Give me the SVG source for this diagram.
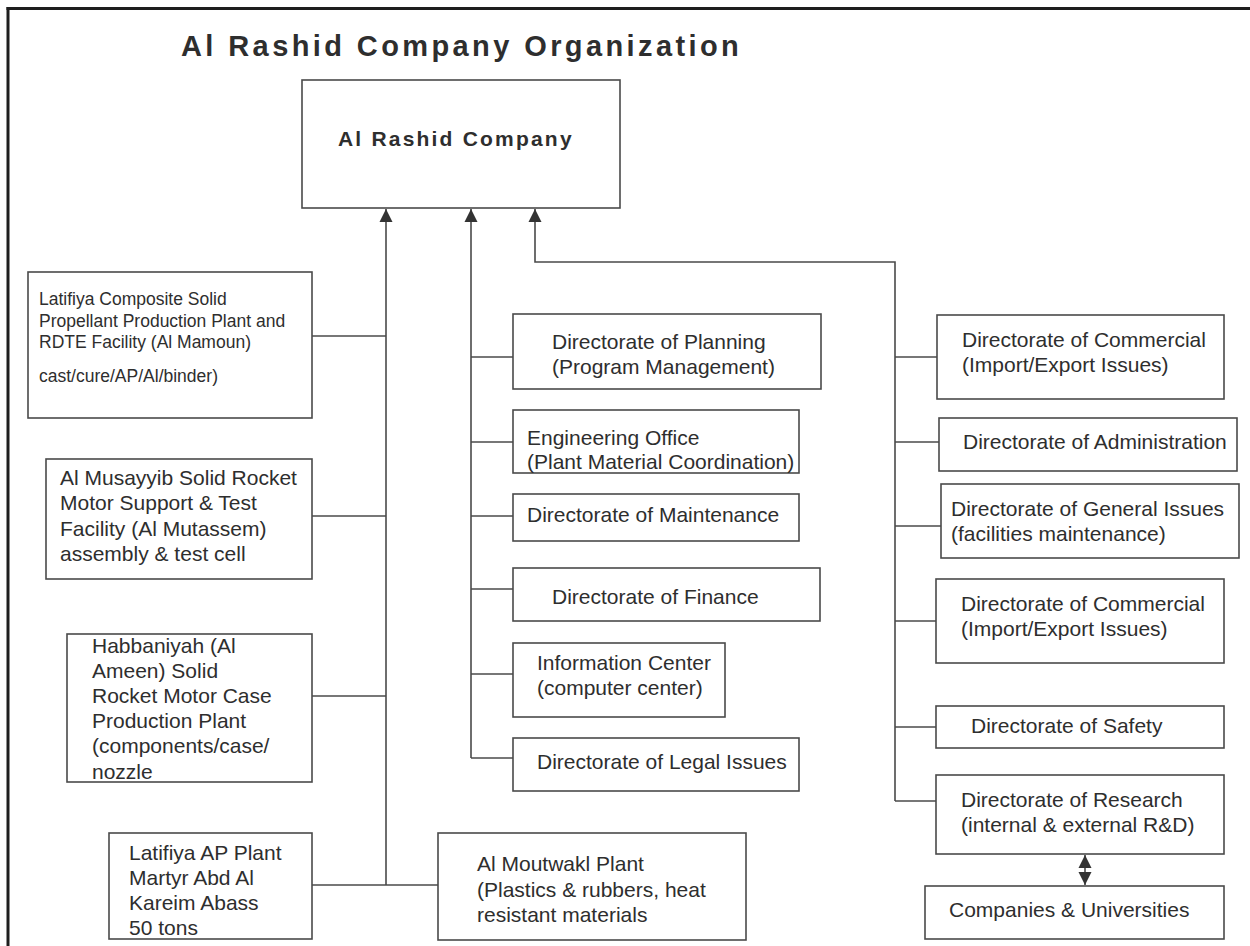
<svg xmlns="http://www.w3.org/2000/svg" width="1250" height="946" viewBox="0 0 1250 946">
<defs>
<style>
.bx{fill:#fff;stroke:#4a4a4a;stroke-width:1.6}
.t{font-family:"Liberation Sans",Arial,sans-serif;font-size:21px;fill:#2e2e2e}
.ts{font-size:17.5px}
.cn{fill:none;stroke:#4a4a4a;stroke-width:1.6}
.fr{stroke:#1e1e1e;stroke-width:3}
</style>
<marker id="ah" markerUnits="userSpaceOnUse" markerWidth="14" markerHeight="14" viewBox="0 0 14 14" refX="13" refY="7" orient="auto">
<path d="M0,0.5 L13,7 L0,13.5 Z" fill="#333"/>
</marker>
</defs>
<rect x="0" y="0" width="1250" height="946" fill="#fff"/>
<g id="frame">
<line class="fr" x1="6.5" y1="8.5" x2="1250" y2="8.5"/>
<line class="fr" x1="8" y1="7" x2="8" y2="946"/>
</g>
<text id="title" x="181" y="56" font-family="'Liberation Sans',Arial,sans-serif" font-size="29" font-weight="bold" letter-spacing="3.4" fill="#2e2e2e">Al Rashid Company Organization</text>

<g id="connectors">
<path class="cn" d="M386,885 L386,209" marker-end="url(#ah)"/>
<path class="cn" d="M471,758 L471,209" marker-end="url(#ah)"/>
<path class="cn" d="M895,801 L895,262 L535,262 L535,209" marker-end="url(#ah)"/>
<line class="cn" x1="312" y1="336" x2="386" y2="336"/>
<line class="cn" x1="312" y1="516" x2="386" y2="516"/>
<line class="cn" x1="312" y1="696" x2="386" y2="696"/>
<line class="cn" x1="312" y1="885" x2="438" y2="885"/>
<line class="cn" x1="471" y1="357" x2="513" y2="357"/>
<line class="cn" x1="471" y1="442" x2="513" y2="442"/>
<line class="cn" x1="471" y1="516" x2="513" y2="516"/>
<line class="cn" x1="471" y1="589" x2="513" y2="589"/>
<line class="cn" x1="471" y1="674" x2="513" y2="674"/>
<line class="cn" x1="471" y1="758" x2="513" y2="758"/>
<line class="cn" x1="895" y1="357" x2="937" y2="357"/>
<line class="cn" x1="895" y1="442" x2="939" y2="442"/>
<line class="cn" x1="895" y1="526" x2="941" y2="526"/>
<line class="cn" x1="895" y1="621" x2="936" y2="621"/>
<line class="cn" x1="895" y1="727" x2="936" y2="727"/>
<line class="cn" x1="895" y1="801" x2="936" y2="801"/>
<path class="cn" d="M1085,870 L1085,855" marker-end="url(#ah)"/>
<path class="cn" d="M1085,870 L1085,885" marker-end="url(#ah)"/>
</g>

<g id="n-top">
<rect class="bx" x="302" y="80" width="318" height="128"/>
<text x="338" y="146" font-family="'Liberation Sans',Arial,sans-serif" font-size="21" font-weight="bold" letter-spacing="2.2" fill="#2e2e2e">Al Rashid Company</text>
</g>

<g id="n-latifiya-composite">
<rect class="bx" x="28" y="272" width="284" height="146"/>
<text class="t ts" x="39" y="305"><tspan x="39" y="305">Latifiya Composite Solid</tspan><tspan x="39" y="326.5">Propellant Production Plant and</tspan><tspan x="39" y="348">RDTE Facility (Al Mamoun)</tspan><tspan x="39" y="382">cast/cure/AP/Al/binder)</tspan></text>
</g>

<g id="n-musayyib">
<rect class="bx" x="46" y="459" width="266" height="120"/>
<text class="t"><tspan x="60" y="485">Al Musayyib Solid Rocket</tspan><tspan x="60" y="510">Motor Support &amp; Test</tspan><tspan x="60" y="535.5">Facility (Al Mutassem)</tspan><tspan x="60" y="561">assembly &amp; test cell</tspan></text>
</g>

<g id="n-habbaniyah">
<rect class="bx" x="67" y="634" width="245" height="148"/>
<text class="t"><tspan x="92" y="653">Habbaniyah (Al</tspan><tspan x="92" y="678">Ameen) Solid</tspan><tspan x="92" y="703">Rocket Motor Case</tspan><tspan x="92" y="728">Production Plant</tspan><tspan x="92" y="753">(components/case/</tspan><tspan x="92" y="779">nozzle</tspan></text>
</g>

<g id="n-latifiya-ap">
<rect class="bx" x="109" y="833" width="203" height="106"/>
<text class="t"><tspan x="129" y="860">Latifiya AP Plant</tspan><tspan x="129" y="885">Martyr Abd Al</tspan><tspan x="129" y="910">Kareim Abass</tspan><tspan x="129" y="935">50 tons</tspan></text>
</g>

<g id="n-moutwakl">
<rect class="bx" x="438" y="833" width="308" height="107"/>
<text class="t"><tspan x="477" y="871">Al Moutwakl Plant</tspan><tspan x="477" y="896.5">(Plastics &amp; rubbers, heat</tspan><tspan x="477" y="922">resistant materials</tspan></text>
</g>

<g id="n-planning">
<rect class="bx" x="513" y="314" width="308" height="75"/>
<text class="t"><tspan x="552" y="349">Directorate of Planning</tspan><tspan x="552" y="374">(Program Management)</tspan></text>
</g>

<g id="n-engineering">
<rect class="bx" x="513" y="410" width="286" height="63"/>
<text class="t"><tspan x="527" y="445">Engineering Office</tspan><tspan x="527" y="469">(Plant Material Coordination)</tspan></text>
</g>

<g id="n-maintenance">
<rect class="bx" x="513" y="494" width="286" height="47"/>
<text class="t" x="527" y="522">Directorate of Maintenance</text>
</g>

<g id="n-finance">
<rect class="bx" x="513" y="568" width="307" height="53"/>
<text class="t" x="552" y="604">Directorate of Finance</text>
</g>

<g id="n-information">
<rect class="bx" x="513" y="643" width="212" height="74"/>
<text class="t"><tspan x="537" y="670">Information Center</tspan><tspan x="537" y="695">(computer center)</tspan></text>
</g>

<g id="n-legal">
<rect class="bx" x="513" y="738" width="286" height="53"/>
<text class="t" x="537" y="769">Directorate of Legal Issues</text>
</g>

<g id="n-commercial-1">
<rect class="bx" x="937" y="315" width="287" height="84"/>
<text class="t"><tspan x="962" y="347">Directorate of Commercial</tspan><tspan x="962" y="372">(Import/Export Issues)</tspan></text>
</g>

<g id="n-administration">
<rect class="bx" x="939" y="418" width="298" height="53"/>
<text class="t" x="963" y="449">Directorate of Administration</text>
</g>

<g id="n-general">
<rect class="bx" x="941" y="484" width="298" height="74"/>
<text class="t"><tspan x="951" y="516">Directorate of General Issues</tspan><tspan x="951" y="541">(facilities maintenance)</tspan></text>
</g>

<g id="n-commercial-2">
<rect class="bx" x="936" y="579" width="288" height="84"/>
<text class="t"><tspan x="961" y="611">Directorate of Commercial</tspan><tspan x="961" y="636">(Import/Export Issues)</tspan></text>
</g>

<g id="n-safety">
<rect class="bx" x="936" y="706" width="288" height="42"/>
<text class="t" x="971" y="733">Directorate of Safety</text>
</g>

<g id="n-research">
<rect class="bx" x="936" y="775" width="288" height="79"/>
<text class="t"><tspan x="961" y="807">Directorate of Research</tspan><tspan x="961" y="832">(internal &amp; external R&amp;D)</tspan></text>
</g>

<g id="n-companies">
<rect class="bx" x="925" y="886" width="299" height="53"/>
<text class="t" x="949" y="917">Companies &amp; Universities</text>
</g>
</svg>
